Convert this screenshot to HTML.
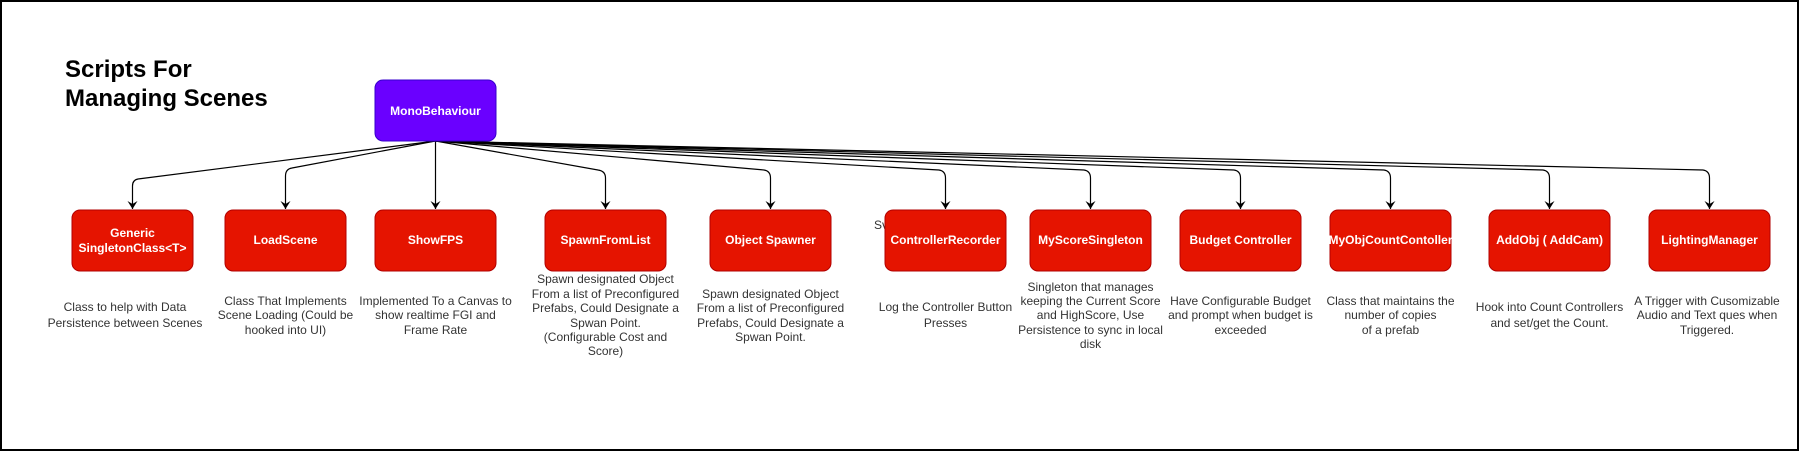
<!DOCTYPE html>
<html><head><meta charset="utf-8"><style>
html,body{margin:0;padding:0;background:#fff;}
svg{display:block;}
text{font-family:"Liberation Sans",sans-serif;}
.d{font-size:12px;fill:#333;text-anchor:middle;}
.b{font-size:12px;fill:#fff;font-weight:bold;text-anchor:middle;}
</style></head><body>
<svg width="1802" height="452" viewBox="0 0 1802 452" xmlns="http://www.w3.org/2000/svg">
<rect x="1" y="1" width="1797" height="449" fill="#fff" stroke="#000" stroke-width="2"/>
<text x="65" y="77" font-size="24" font-weight="bold" fill="#000">Scripts For</text>
<text x="65" y="106" font-size="24" font-weight="bold" fill="#000">Managing Scenes</text>
<defs><marker id="a" markerWidth="10" markerHeight="10" refX="5" refY="8" orient="0" markerUnits="userSpaceOnUse"><path d="M0,0 L5,8 L10,0 L5,3 Z" fill="#000"/></marker></defs>
<g fill="none" stroke="#000" stroke-width="1.2">
<path d="M435.5,141 L138,179 Q132.5,180 132.5,186 L132.5,209" marker-end="url(#a)"/>
<path d="M435.5,141 L292,168 Q285.5,169 285.5,176 L285.5,209" marker-end="url(#a)"/>
<path d="M435.5,141 L435.5,209" marker-end="url(#a)"/>
<path d="M435.5,141 L598,170 Q605.5,171 605.5,178 L605.5,209" marker-end="url(#a)"/>
<path d="M435.5,141 L764,170 Q770.5,171 770.5,178 L770.5,209" marker-end="url(#a)"/>
<path d="M435.5,141 L939,170 Q945.5,171 945.5,178 L945.5,209" marker-end="url(#a)"/>
<path d="M435.5,141 L1084,170 Q1090.5,171 1090.5,178 L1090.5,209" marker-end="url(#a)"/>
<path d="M435.5,141 L1234,170 Q1240.5,171 1240.5,178 L1240.5,209" marker-end="url(#a)"/>
<path d="M435.5,141 L1384,170 Q1390.5,171 1390.5,178 L1390.5,209" marker-end="url(#a)"/>
<path d="M435.5,141 L1543,170 Q1549.5,171 1549.5,178 L1549.5,209" marker-end="url(#a)"/>
<path d="M435.5,141 L1703,170 Q1709.5,171 1709.5,178 L1709.5,209" marker-end="url(#a)"/>
</g>
<rect x="375" y="80" width="121" height="61" rx="8" fill="#6a00ff" stroke="#3700cc"/>
<text class="b" x="435.5" y="115">MonoBehaviour</text>
<text x="874" y="229" font-size="12" fill="#333">Sv</text>
<g fill="#e51400" stroke="#b20000">
<rect x="72" y="210" width="121" height="61" rx="8"/>
<rect x="225" y="210" width="121" height="61" rx="8"/>
<rect x="375" y="210" width="121" height="61" rx="8"/>
<rect x="545" y="210" width="121" height="61" rx="8"/>
<rect x="710" y="210" width="121" height="61" rx="8"/>
<rect x="885" y="210" width="121" height="61" rx="8"/>
<rect x="1030" y="210" width="121" height="61" rx="8"/>
<rect x="1180" y="210" width="121" height="61" rx="8"/>
<rect x="1330" y="210" width="121" height="61" rx="8"/>
<rect x="1489" y="210" width="121" height="61" rx="8"/>
<rect x="1649" y="210" width="121" height="61" rx="8"/>
</g>
<text class="b" x="132.5" y="237">Generic</text>
<text class="b" x="132.5" y="252">SingletonClass&lt;T&gt;</text>
<text class="b" x="285.5" y="244">LoadScene</text>
<text class="b" x="435.5" y="244">ShowFPS</text>
<text class="b" x="605.5" y="244">SpawnFromList</text>
<text class="b" x="770.5" y="244">Object Spawner</text>
<text class="b" x="945.5" y="244">ControllerRecorder</text>
<text class="b" x="1090.5" y="244">MyScoreSingleton</text>
<text class="b" x="1240.5" y="244">Budget Controller</text>
<text class="b" x="1390.5" y="244">MyObjCountContoller</text>
<text class="b" x="1549.5" y="244">AddObj ( AddCam)</text>
<text class="b" x="1709.5" y="244">LightingManager</text>
<g class="d">
<text class="d" x="125" y="311">Class to help with Data</text>
<text class="d" x="125" y="327">Persistence between Scenes</text>
<text class="d" x="285.5" y="305">Class That Implements</text>
<text class="d" x="285.5" y="319">Scene Loading (Could be</text>
<text class="d" x="285.5" y="334">hooked into UI)</text>
<text class="d" x="435.5" y="305">Implemented To a Canvas to</text>
<text class="d" x="435.5" y="319">show realtime FGI and</text>
<text class="d" x="435.5" y="334">Frame Rate</text>
<text class="d" x="605.5" y="283">Spawn designated Object</text>
<text class="d" x="605.5" y="298">From a list  of Preconfigured</text>
<text class="d" x="605.5" y="312">Prefabs, Could Designate a</text>
<text class="d" x="605.5" y="327">Spwan Point.</text>
<text class="d" x="605.5" y="341">(Configurable Cost and</text>
<text class="d" x="605.5" y="355">Score)</text>
<text class="d" x="770.5" y="298">Spawn designated Object</text>
<text class="d" x="770.5" y="312">From a list  of Preconfigured</text>
<text class="d" x="770.5" y="327">Prefabs, Could Designate a</text>
<text class="d" x="770.5" y="341">Spwan Point.</text>
<text class="d" x="945.5" y="311">Log the Controller Button</text>
<text class="d" x="945.5" y="327">Presses</text>
<text class="d" x="1090.5" y="291">Singleton that manages</text>
<text class="d" x="1090.5" y="305">keeping the Current Score</text>
<text class="d" x="1090.5" y="319">and HighScore, Use</text>
<text class="d" x="1090.5" y="334">Persistence to sync in local</text>
<text class="d" x="1090.5" y="348">disk</text>
<text class="d" x="1240.5" y="305">Have Configurable Budget</text>
<text class="d" x="1240.5" y="319">and prompt when budget is</text>
<text class="d" x="1240.5" y="334">exceeded</text>
<text class="d" x="1390.5" y="305">Class that maintains the</text>
<text class="d" x="1390.5" y="319">number of copies</text>
<text class="d" x="1390.5" y="334">of a prefab</text>
<text class="d" x="1549.5" y="311">Hook into Count Controllers</text>
<text class="d" x="1549.5" y="327">and set/get the Count.</text>
<text class="d" x="1707" y="305">A Trigger with Cusomizable</text>
<text class="d" x="1707" y="319">Audio and Text ques when</text>
<text class="d" x="1707" y="334">Triggered.</text>
</g>
</svg>
</body></html>
